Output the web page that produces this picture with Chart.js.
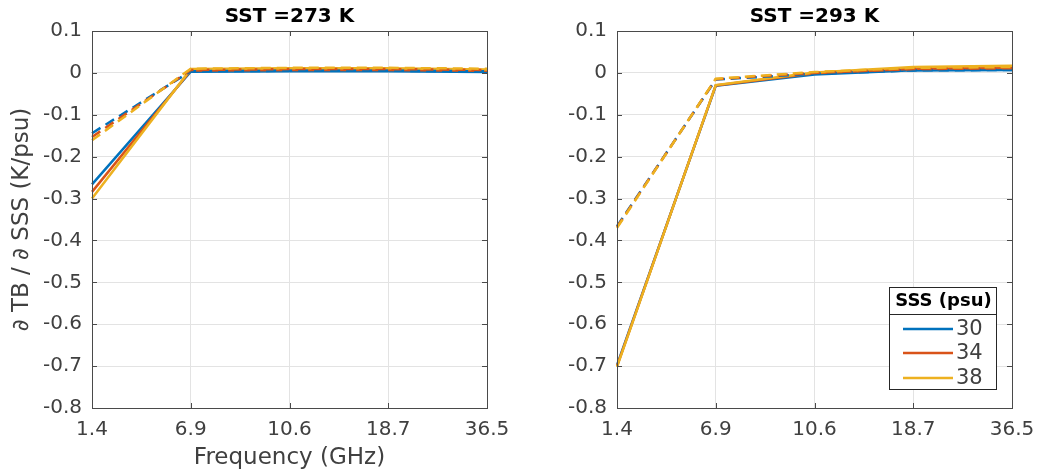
<!DOCTYPE html>
<html>
<head>
<meta charset="utf-8">
<script src="https://cdn.jsdelivr.net/npm/chart.js@4"></script>
<style>
  body { margin: 0; background: #fff; overflow: hidden; }
  #wrap { position: relative; width: 1038px; height: 475px; overflow: hidden; }
  canvas { position: absolute; top: 0; }
  #c1 { left: 0; }
  #c2 { left: 530px; }
</style>
</head>
<body>
<div id="wrap">
  <canvas id="c1" width="530" height="475"></canvas>
  <canvas id="c2" width="530" height="475"></canvas>
</div>
<script>
// データ
const freqLabels = ['1.4', '6.9', '10.6', '18.7', '36.5'];
const sssValues = [30, 34, 38];
const yTicks = [0.1, 0, -0.1, -0.2, -0.3, -0.4, -0.5, -0.6, -0.7, -0.8];

// SST = 273 K
const sst273Solid = [
    [-0.266, 0.003, 0.004, 0.004, 0.002],
    [-0.284, 0.006, 0.007, 0.007, 0.005],
    [-0.300, 0.009, 0.011, 0.011, 0.008]
];
const sst273Dashed = [
    [-0.144, 0.004, 0.005, 0.005, 0.004],
    [-0.153, 0.007, 0.009, 0.009, 0.007],
    [-0.161, 0.010, 0.012, 0.012, 0.010]
];
// SST = 293 K
const sst293Solid = [
    [-0.698, -0.031, -0.004, 0.006, 0.007],
    [-0.700, -0.030, -0.001, 0.010, 0.012],
    [-0.702, -0.029, 0.001, 0.014, 0.017]
];
const sst293Dashed = [
    [-0.366, -0.016, -0.002, 0.006, 0.007],
    [-0.368, -0.015, 0.000, 0.009, 0.011],
    [-0.370, -0.014, 0.002, 0.012, 0.014]
];

const colors = ['#0072BD', '#D95319', '#EDB120'];
const FONT = "'DejaVu Sans', sans-serif";
const TEXT = '#404040';

function makeDatasets(solid, dashed) {
    const ds = [];
    sssValues.forEach((s, i) => {
        ds.push({
            label: String(s),
            data: solid[i],
            borderColor: colors[i],
            borderWidth: 2.5,
            pointRadius: 0,
            fill: false,
            tension: 0,
            order: 6 - i
        });
    });
    sssValues.forEach((s, i) => {
        ds.push({
            label: String(s) + ' dashed',
            data: dashed[i],
            borderColor: colors[i],
            borderWidth: 2.5,
            borderDash: [10, 6],
            pointRadius: 0,
            fill: false,
            tension: 0,
            order: 3 - i
        });
    });
    return ds;
}

// 枠線・目盛り・タイトル
const boxPlugin = {
    id: 'box',
    afterDraw(chart, args, opts) {
        const { ctx, chartArea: a } = chart;
        ctx.save();
        ctx.strokeStyle = '#4a4a4a';
        ctx.lineWidth = 1;
        const xs = chart.scales.x;
        for (let i = 0; i < freqLabels.length; i++) {
            const px = Math.round(xs.getPixelForTick(i)) + 0.5;
            ctx.beginPath();
            ctx.moveTo(px, a.bottom); ctx.lineTo(px, a.bottom - 5);
            ctx.moveTo(px, a.top); ctx.lineTo(px, a.top + 5);
            ctx.stroke();
        }
        const ys = chart.scales.y;
        yTicks.forEach(v => {
            const py = Math.round(ys.getPixelForValue(v)) + 0.5;
            ctx.beginPath();
            ctx.moveTo(a.left, py); ctx.lineTo(a.left + 5, py);
            ctx.moveTo(a.right, py); ctx.lineTo(a.right - 5, py);
            ctx.stroke();
        });
        ctx.strokeRect(Math.round(a.left) + 0.5, Math.round(a.top) + 0.5,
            Math.round(a.right - a.left), Math.round(a.bottom - a.top));
        ctx.fillStyle = '#000';
        ctx.font = 'bold 20px ' + FONT;
        ctx.textAlign = 'center';
        ctx.textBaseline = 'middle';
        ctx.fillText(opts.title, (a.left + a.right) / 2, a.top - 14);
        ctx.restore();
    }
};

// 凡例 (右のグラフのみ)
const legendBoxPlugin = {
    id: 'legendBox',
    afterDraw(chart, args, opts) {
        if (!opts.show) return;
        const { ctx, chartArea: a } = chart;
        const w = 107, h = 102;
        const x0 = a.right - 16 - w, y0 = a.bottom - 19 - h;
        ctx.save();
        ctx.fillStyle = '#fff';
        ctx.fillRect(x0, y0, w, h);
        ctx.strokeStyle = '#262626';
        ctx.lineWidth = 1;
        ctx.strokeRect(x0 + 0.5, y0 + 0.5, w, h);
        ctx.beginPath();
        ctx.moveTo(x0, y0 + 27.5); ctx.lineTo(x0 + w, y0 + 27.5);
        ctx.stroke();
        ctx.fillStyle = '#000';
        ctx.font = 'bold 18px ' + FONT;
        ctx.textAlign = 'center';
        ctx.textBaseline = 'middle';
        ctx.fillText('SSS (psu)', x0 + w / 2 + 1, y0 + 14);
        ctx.font = '21px ' + FONT;
        ctx.textAlign = 'left';
        ctx.fillStyle = TEXT;
        const rows = [42, 66, 91];
        for (let i = 0; i < 3; i++) {
            const ds = chart.data.datasets[i];
            ctx.strokeStyle = ds.borderColor;
            ctx.lineWidth = 2.5;
            ctx.beginPath();
            ctx.moveTo(x0 + 14, y0 + rows[i]);
            ctx.lineTo(x0 + 64, y0 + rows[i]);
            ctx.stroke();
            ctx.fillText(ds.label, x0 + 67, y0 + rows[i] + 1);
        }
        ctx.restore();
    }
};

function makeChart(id, solid, dashed, title, yWidth, padRight, showYTitle, showXTitle, showLegend) {
    const ctx = document.getElementById(id).getContext('2d');
    return new Chart(ctx, {
        type: 'line',
        data: { labels: freqLabels, datasets: makeDatasets(solid, dashed) },
        options: {
            responsive: false,
            animation: false,
            layout: { padding: { top: 31, left: 0, right: padRight, bottom: 0 } },
            plugins: {
                legend: { display: false },
                tooltip: { enabled: false },
                box: { title: title },
                legendBox: { show: showLegend }
            },
            scales: {
                x: {
                    type: 'category',
                    offset: false,
                    grid: { color: '#e3e3e3', drawTicks: false },
                    border: { display: false },
                    ticks: {
                        color: TEXT, font: { family: FONT, size: 20 },
                        padding: 10, maxRotation: 0, autoSkip: false
                    },
                    title: {
                        display: showXTitle, text: 'Frequency (GHz)', color: TEXT,
                        font: { family: FONT, size: 23 }, padding: { top: 0, bottom: 3 }
                    },
                    afterFit(s) { s.height = 67; }
                },
                y: {
                    min: -0.8, max: 0.1,
                    grid: { color: '#e3e3e3', drawTicks: false },
                    border: { display: false },
                    afterBuildTicks(s) { s.ticks = yTicks.map(v => ({ value: v })); },
                    ticks: {
                        color: TEXT, font: { family: FONT, size: 20 }, padding: 10,
                        callback: v => (Math.abs(v) < 1e-9 ? '0' : v.toFixed(1))
                    },
                    title: {
                        display: showYTitle, text: '∂ TB / ∂ SSS (K/psu)', color: TEXT,
                        font: { family: FONT, size: 23 }, padding: { top: 8, bottom: 0 }
                    },
                    afterFit(s) { s.width = yWidth; }
                }
            }
        },
        plugins: [boxPlugin, legendBoxPlugin]
    });
}

makeChart('c1', sst273Solid, sst273Dashed, 'SST =273 K', 92, 43, true, true, false);
makeChart('c2', sst293Solid, sst293Dashed, 'SST =293 K', 87, 48, false, false, true);
</script>
</body>
</html>
